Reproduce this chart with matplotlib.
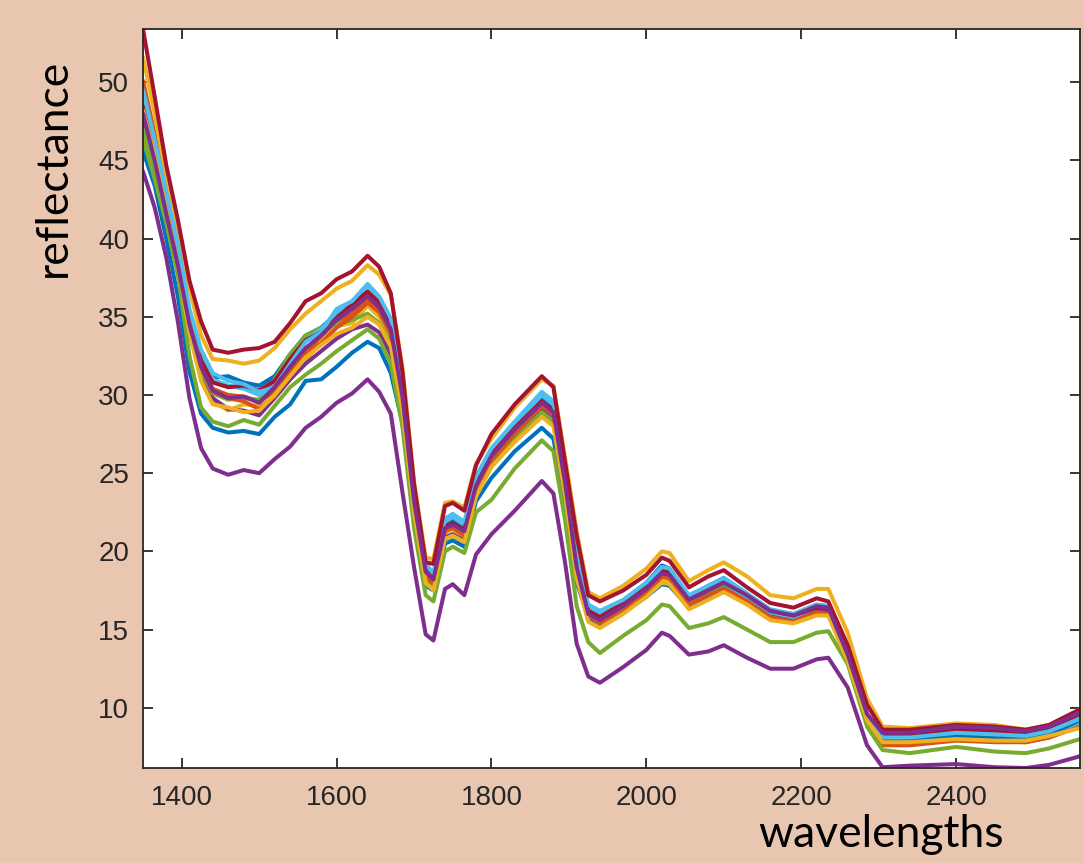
import matplotlib
matplotlib.use("Agg")
import matplotlib.pyplot as plt

wl = [1350, 1365, 1380, 1395, 1410, 1425, 1440, 1460, 1480, 1500,
      1520, 1540, 1560, 1580, 1600, 1620, 1640, 1655, 1670, 1685,
      1700, 1715, 1725, 1740, 1750, 1765, 1780, 1800, 1830, 1865,
      1880, 1895, 1910, 1925, 1940, 1970, 2000, 2020, 2030, 2055,
      2080, 2100, 2130, 2160, 2190, 2220, 2235, 2260, 2285, 2305,
      2340, 2400, 2450, 2490, 2520, 2560]

# reflectance spectra (one list per sample)
s_blue1 = [47.9, 45.2, 41.8, 38.5, 34.8, 32.4, 31.1, 31.2, 30.8, 30.6,
           31.2, 32.6, 33.8, 34.3, 35.2, 35.9, 36.8, 36.0, 34.6, 30.2,
           23.4, 18.9, 18.3, 21.7, 22.0, 21.6, 24.5, 26.3, 28.0, 29.9,
           29.3, 24.7, 19.3, 16.4, 16.0, 16.8, 18.0, 19.1, 18.9, 17.1,
           17.8, 18.3, 17.3, 16.2, 15.8, 16.3, 16.2, 13.3, 9.4, 7.9,
           7.9, 8.2, 8.1, 8.0, 8.3, 9.1]
s_orange1 = [50.1, 46.7, 42.8, 39.3, 35.0, 32.0, 30.4, 30.0, 29.9, 29.6,
             30.2, 31.5, 32.8, 33.5, 34.6, 35.2, 36.0, 35.4, 34.0, 29.8,
             23.0, 18.5, 18.0, 21.4, 21.6, 21.1, 24.0, 25.9, 27.6, 29.4,
             28.8, 24.3, 19.0, 16.0, 15.6, 16.5, 17.6, 18.6, 18.4, 16.8,
             17.4, 17.8, 16.9, 15.9, 15.6, 16.1, 16.0, 13.0, 9.2, 7.7,
             7.7, 8.0, 7.9, 7.8, 8.1, 8.9]
s_yellow1 = [49.0, 46.0, 42.5, 38.9, 34.5, 31.3, 29.6, 29.0, 29.4, 29.3,
             29.9, 31.0, 32.2, 33.4, 34.4, 34.6, 35.7, 35.0, 33.7, 29.5,
             22.9, 18.3, 17.8, 21.2, 21.4, 21.0, 23.9, 25.8, 27.5, 29.0,
             28.4, 23.8, 18.5, 15.6, 15.2, 16.2, 17.3, 18.2, 18.1, 16.5,
             17.1, 17.5, 16.7, 15.7, 15.5, 16.0, 16.0, 13.1, 9.3, 7.8,
             7.8, 8.0, 7.9, 7.9, 8.2, 8.8]
s_purple1 = [47.5, 44.6, 41.3, 37.9, 34.0, 31.2, 29.8, 29.1, 29.0, 28.7,
             29.8, 31.0, 32.0, 32.8, 33.6, 34.2, 34.5, 34.0, 32.6, 28.8,
             22.4, 18.0, 17.6, 20.9, 21.1, 20.7, 23.6, 25.5, 27.2, 29.2,
             28.6, 24.1, 18.8, 15.8, 15.4, 16.3, 17.4, 18.4, 18.3, 16.6,
             17.2, 17.7, 16.9, 16.0, 15.8, 16.3, 16.2, 13.3, 9.5, 8.1,
             8.1, 8.4, 8.3, 8.2, 8.5, 9.3]
s_green1 = [47.0, 44.5, 41.4, 38.0, 34.2, 31.5, 30.1, 29.7, 29.8, 29.7,
            31.0, 32.6, 33.8, 34.3, 34.5, 34.8, 35.2, 34.6, 33.3, 29.2,
            22.7, 18.1, 17.7, 20.8, 21.0, 20.6, 23.6, 25.5, 27.2, 28.9,
            28.3, 23.9, 18.7, 15.8, 15.5, 16.4, 17.5, 18.5, 18.4, 16.8,
            17.4, 17.9, 17.1, 16.2, 16.0, 16.6, 16.5, 13.4, 9.5, 8.0,
            8.0, 8.3, 8.2, 8.1, 8.4, 9.2]
s_cyan1 = [49.0, 46.0, 42.6, 39.2, 35.2, 32.5, 31.0, 30.6, 30.4, 30.0,
           30.6, 32.2, 33.5, 34.2, 35.3, 35.8, 36.8, 36.0, 34.6, 30.3,
           23.6, 19.0, 18.5, 21.9, 22.2, 21.7, 24.6, 26.4, 28.1, 30.0,
           29.4, 24.8, 19.4, 16.4, 16.0, 16.7, 17.8, 18.7, 18.6, 17.0,
           17.6, 18.0, 17.1, 16.1, 15.8, 16.4, 16.3, 13.3, 9.4, 7.9,
           7.9, 8.2, 8.1, 8.0, 8.3, 9.0]
s_red1 = [48.5, 45.6, 42.2, 38.8, 34.9, 32.2, 30.8, 30.5, 30.6, 30.3,
          30.9, 32.3, 33.5, 34.0, 34.9, 35.8, 36.6, 35.9, 34.4, 30.0,
          23.3, 18.8, 18.3, 21.6, 21.8, 21.4, 24.3, 26.2, 27.9, 29.6,
          29.0, 24.5, 19.2, 16.2, 15.8, 16.7, 17.8, 18.8, 18.7, 17.0,
          17.6, 18.1, 17.2, 16.2, 15.9, 16.4, 16.3, 13.4, 9.6, 8.3,
          8.3, 8.6, 8.5, 8.4, 8.7, 9.6]
s_blue2 = [45.6, 43.4, 40.0, 36.3, 31.5, 28.8, 27.9, 27.6, 27.7, 27.5,
           28.6, 29.4, 30.9, 31.0, 31.8, 32.7, 33.4, 33.0, 31.4, 28.2,
           22.0, 17.8, 17.5, 20.5, 20.7, 20.3, 23.2, 24.7, 26.4, 27.9,
           27.2, 23.0, 18.0, 15.8, 15.3, 16.1, 17.1, 17.9, 17.8, 16.4,
           17.0, 17.5, 16.8, 15.8, 15.5, 16.0, 16.0, 13.4, 9.4, 7.9,
           7.9, 8.2, 8.1, 8.0, 8.3, 9.2]
s_orange2 = [49.8, 46.4, 42.6, 39.0, 34.8, 31.8, 30.2, 29.8, 29.6, 29.1,
             29.9, 31.3, 32.6, 33.3, 34.3, 35.0, 35.9, 35.3, 33.9, 29.7,
             23.0, 18.4, 17.9, 21.3, 21.5, 21.0, 23.9, 25.8, 27.5, 29.3,
             28.7, 24.2, 18.9, 15.9, 15.4, 16.3, 17.4, 18.4, 18.3, 16.6,
             17.2, 17.6, 16.8, 15.8, 15.5, 16.1, 16.0, 13.0, 9.1, 7.6,
             7.6, 7.9, 7.8, 7.8, 8.1, 8.8]
s_yellow2 = [51.6, 48.0, 44.0, 40.6, 36.8, 33.8, 32.3, 32.2, 32.0, 32.2,
             33.0, 34.2, 35.2, 36.0, 36.8, 37.3, 38.3, 37.7, 36.4, 31.8,
             24.5, 19.6, 19.5, 23.1, 23.2, 22.8, 25.6, 27.2, 29.2, 31.0,
             30.6, 26.0, 21.3, 17.4, 17.0, 17.8, 18.9, 20.0, 19.9, 18.1,
             18.8, 19.3, 18.4, 17.2, 17.0, 17.6, 17.6, 14.8, 10.6, 8.8,
             8.7, 9.0, 8.9, 8.6, 8.9, 9.9]
s_purple2 = [44.3, 42.0, 38.8, 34.7, 29.8, 26.6, 25.3, 24.9, 25.2, 25.0,
             25.9, 26.7, 27.9, 28.6, 29.5, 30.1, 31.0, 30.2, 28.8, 23.8,
             19.0, 14.7, 14.3, 17.6, 17.9, 17.2, 19.8, 21.1, 22.6, 24.5,
             23.7, 19.3, 14.1, 12.0, 11.6, 12.6, 13.7, 14.8, 14.6, 13.4,
             13.6, 14.0, 13.2, 12.5, 12.5, 13.1, 13.2, 11.3, 7.6, 6.2,
             6.3, 6.4, 6.2, 6.15, 6.35, 6.9]
s_green2 = [46.4, 43.8, 41.0, 37.7, 32.5, 29.2, 28.3, 28.0, 28.4, 28.1,
            29.3, 30.5, 31.3, 32.0, 32.8, 33.5, 34.2, 33.6, 32.0, 28.0,
            21.5, 17.2, 16.8, 20.0, 20.3, 19.9, 22.5, 23.3, 25.3, 27.1,
            26.4, 22.0, 16.5, 14.2, 13.5, 14.6, 15.6, 16.6, 16.5, 15.1,
            15.4, 15.8, 15.0, 14.2, 14.2, 14.8, 14.9, 12.8, 8.8, 7.3,
            7.1, 7.5, 7.2, 7.1, 7.4, 8.0]
s_cyan2 = [49.5, 46.3, 43.0, 39.6, 35.5, 32.9, 31.4, 30.9, 30.7, 30.2,
           30.5, 32.0, 33.4, 34.0, 35.5, 36.0, 37.1, 36.3, 34.9, 30.5,
           23.7, 19.2, 18.6, 22.1, 22.4, 21.9, 24.8, 26.6, 28.3, 30.2,
           29.6, 25.0, 19.6, 16.6, 16.2, 16.9, 18.0, 19.0, 18.9, 17.2,
           17.8, 18.3, 17.3, 16.3, 16.0, 16.6, 16.5, 13.5, 9.6, 8.1,
           8.1, 8.4, 8.3, 8.2, 8.5, 9.3]
s_red2 = [53.4, 49.1, 44.7, 41.2, 37.3, 34.7, 32.9, 32.7, 32.9, 33.0,
          33.4, 34.6, 36.0, 36.5, 37.4, 37.9, 38.9, 38.2, 36.5, 31.5,
          24.3, 19.3, 19.2, 22.9, 23.1, 22.6, 25.5, 27.5, 29.4, 31.2,
          30.5, 25.7, 21.0, 17.2, 16.8, 17.5, 18.5, 19.6, 19.4, 17.7,
          18.4, 18.8, 17.7, 16.7, 16.4, 17.0, 16.8, 14.0, 10.2, 8.6,
          8.6, 8.9, 8.8, 8.6, 8.9, 9.9]
s_yellow3 = [48.2, 45.3, 41.8, 38.3, 34.0, 30.9, 29.4, 29.2, 28.9, 29.0,
             30.0, 31.2, 32.4, 33.2, 33.9, 34.3, 35.0, 34.5, 33.1, 29.0,
             22.5, 18.0, 17.5, 20.8, 21.0, 20.6, 23.5, 25.4, 27.0, 28.6,
             28.0, 23.6, 18.3, 15.5, 15.1, 16.0, 17.1, 18.0, 17.9, 16.3,
             16.9, 17.4, 16.6, 15.6, 15.4, 15.9, 15.9, 13.0, 9.2, 7.8,
             7.8, 8.0, 7.9, 7.9, 8.2, 8.7]
s_purple3 = [48.0, 45.0, 41.6, 38.3, 34.5, 31.8, 30.3, 29.8, 29.9, 29.5,
             30.5, 31.8, 33.0, 33.8, 34.8, 35.5, 36.3, 35.6, 34.2, 29.9,
             23.2, 18.7, 18.2, 21.5, 21.7, 21.3, 24.2, 26.1, 27.8, 29.5,
             28.9, 24.4, 19.0, 16.0, 15.6, 16.5, 17.6, 18.6, 18.5, 16.9,
             17.5, 18.0, 17.2, 16.2, 15.9, 16.5, 16.4, 13.4, 9.6, 8.4,
             8.4, 8.8, 8.7, 8.5, 8.8, 9.7]

spectra = [s_blue1, s_orange1, s_yellow1, s_purple1, s_green1, s_cyan1, s_red1,
           s_blue2, s_orange2, s_yellow2, s_purple2, s_green2, s_cyan2, s_red2,
           s_yellow3, s_purple3]
colors = ['#0072BD', '#D95319', '#EDB120', '#7E2F8E', '#77AC30', '#4DBEEE', '#A2142F',
          '#0072BD', '#D95319', '#EDB120', '#7E2F8E', '#77AC30', '#4DBEEE', '#A2142F',
          '#EDB120', '#7E2F8E']

bg = '#E9C6AF'
fig = plt.figure(figsize=(10.84, 8.63), dpi=100, facecolor=bg)
ax = fig.add_axes([143/1084, 1 - 768/863, (1080 - 143)/1084, (768 - 29)/863])
ax.set_facecolor('white')

for s, c in zip(spectra, colors):
    ax.plot(wl, s, color=c, lw=2.9, solid_joinstyle='round', solid_capstyle='round')

ymin = min(min(s) for s in spectra)
ymax = max(max(s) for s in spectra)
ax.set_xlim(wl[0], wl[-1])
ax.set_ylim(ymin, ymax)
ax.set_xticks([1400, 1600, 1800, 2000, 2200, 2400])
ax.set_yticks([10, 15, 20, 25, 30, 35, 40, 45, 50])

for sp in ax.spines.values():
    sp.set_color('#262626')
    sp.set_linewidth(1.3)
ax.tick_params(direction='in', length=7, width=1.3, color='#262626',
               top=True, right=True, labelsize=20, labelcolor='#262626')
ax.tick_params(axis='x', pad=12)
ax.tick_params(axis='y', pad=10)
for lab in ax.get_xticklabels() + ax.get_yticklabels():
    lab.set_family('Liberation Sans')

fig.text(881/1084, 16/863, 'wavelengths', family='Lato', fontsize=32,
         ha='center', va='baseline', color='black')
fig.text(53/1084, 1 - 168/863, 'reflectance', family='Lato', fontsize=32,
         rotation=90, ha='center', va='center', color='black')

fig.savefig('out.png', dpi=100, facecolor=bg)
